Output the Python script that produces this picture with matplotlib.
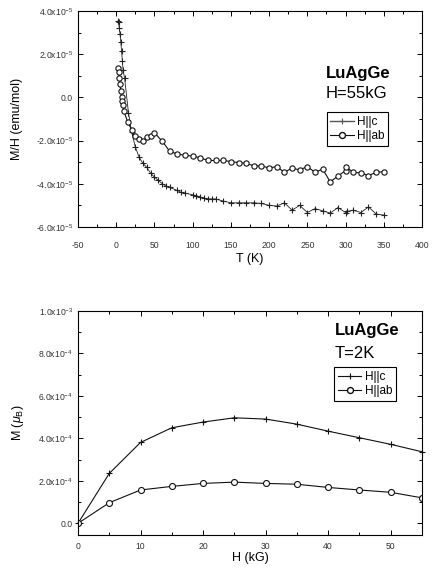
import matplotlib
matplotlib.use("Agg")
import math
import matplotlib.pyplot as plt
from matplotlib.ticker import MultipleLocator, FuncFormatter
from matplotlib.lines import Line2D

plt.rcParams['font.family'] = ['Liberation Sans', 'DejaVu Sans']
plt.rcParams['mathtext.fontset'] = 'custom'
plt.rcParams['mathtext.rm'] = 'Liberation Sans'
plt.rcParams['mathtext.it'] = 'Liberation Sans:italic'
plt.rcParams['mathtext.bf'] = 'Liberation Sans:bold'
plt.rcParams['axes.unicode_minus'] = False

# ---- Top panel data: M/H vs T at H=55kG (units of 1e-5 emu/mol) ----
T_c = [2, 3, 4, 5, 6, 7, 8, 9, 11, 16, 20, 25, 30, 35, 40, 45, 50, 55, 60, 65,
       70, 80, 85, 90, 100, 105, 110, 115, 120, 125, 130, 140, 150, 160, 170,
       180, 190, 200, 210, 220, 230, 240, 250, 260, 270, 280, 290, 300, 302,
       310, 320, 330, 340, 350]
MH_c = [3.53, 3.48, 3.23, 2.93, 2.56, 2.14, 1.70, 1.25, 0.88, -0.71, -1.58,
        -2.30, -2.77, -3.06, -3.24, -3.51, -3.69, -3.84, -3.99, -4.10,
        -4.17, -4.31, -4.40, -4.43, -4.51, -4.55, -4.61, -4.66, -4.70, -4.70,
        -4.70, -4.80, -4.88, -4.88, -4.88, -4.88, -4.91, -5.00, -5.03, -4.88,
        -5.22, -5.00, -5.33, -5.15, -5.25, -5.36, -5.10, -5.33, -5.28,
        -5.22, -5.33, -5.07, -5.40, -5.45]

T_ab = [2, 3, 4, 5, 6, 7, 8, 9, 10, 15, 20, 25, 30, 35, 40, 45, 50, 60, 70,
        80, 90, 100, 110, 120, 130, 140, 150, 160, 170, 180, 190, 200, 210,
        220, 230, 240, 250, 260, 270, 280, 290, 300, 301, 310, 320, 330, 340,
        350]
MH_ab = [1.34, 1.19, 0.88, 0.60, 0.28, 0.03, -0.15, -0.37, -0.64, -1.13,
         -1.49, -1.79, -1.93, -2.02, -1.83, -1.79, -1.64, -2.02, -2.50,
         -2.62, -2.68, -2.72, -2.80, -2.92, -2.92, -2.92, -2.97, -3.02, -3.05,
         -3.17, -3.17, -3.27, -3.20, -3.47, -3.27, -3.36, -3.20, -3.47, -3.32,
         -3.91, -3.64, -3.39, -3.22, -3.47, -3.50, -3.62, -3.47, -3.44]

# ---- Bottom panel data: M vs H at T=2K (units of 1e-4 mu_B) ----
H_field = [0, 5, 10, 15, 20, 25, 30, 35, 40, 45, 50, 55]
M_c = [0.0, 2.35, 3.81, 4.50, 4.77, 4.97, 4.91, 4.67, 4.34, 4.03, 3.72, 3.37]
M_ab = [0.0, 0.97, 1.57, 1.74, 1.88, 1.94, 1.88, 1.84, 1.69, 1.57, 1.46, 1.20]

W, H = 432, 571
fig = plt.figure(figsize=(W / 100, H / 100), dpi=100)

ax1 = fig.add_axes([78 / W, 1 - 227 / H, 344 / W, 216 / H])
ax2 = fig.add_axes([78 / W, 1 - 535 / H, 344 / W, 224 / H])

TICK_COLOR = '#333333'


def sci_fmt(v, pos):
    if abs(v) < 1e-12:
        return '0.0'
    e = int(math.floor(math.log10(abs(v)) + 1e-9))
    m = v / 10 ** e
    return r'%.1fx10$^{%d}$' % (m, e)


def style_axis(ax, xpad):
    for s in ax.spines.values():
        s.set_linewidth(0.8)
    ax.tick_params(which='both', direction='in', top=True, right=True,
                   labelsize=6.2, labelcolor=TICK_COLOR, width=0.7)
    ax.tick_params(which='major', length=3.5)
    ax.tick_params(which='minor', length=2)
    ax.tick_params(axis='x', pad=xpad)


# Top panel
ax1.plot(T_c, [v * 1e-5 for v in MH_c], color='#222222', lw=0.6,
         marker='+', ms=4.5, mew=0.8, ls='-')
ax1.plot(T_ab, [v * 1e-5 for v in MH_ab], color='#111111', lw=0.8,
         marker='o', ms=3.8, mfc='white', mec='#111111', mew=0.8)
ax1.set_xlim(-50, 400)
ax1.set_ylim(-6e-5, 4e-5)
ax1.xaxis.set_major_locator(MultipleLocator(50))
ax1.xaxis.set_minor_locator(MultipleLocator(25))
ax1.yaxis.set_major_locator(MultipleLocator(2e-5))
ax1.yaxis.set_minor_locator(MultipleLocator(1e-5))
ax1.yaxis.set_major_formatter(FuncFormatter(sci_fmt))
style_axis(ax1, 10)
ax1.set_xlabel('T (K)', fontsize=9, labelpad=2)
ax1.set_ylabel('M/H (emu/mol)', fontsize=9, labelpad=9)
ax1.text((326 - 78) / 344, (227 - 73) / 216, 'LuAgGe', fontsize=12,
         fontweight='bold', ha='left', va='center', transform=ax1.transAxes)
ax1.text((326 - 78) / 344, (227 - 93) / 216, 'H=55kG', fontsize=12,
         ha='left', va='center', transform=ax1.transAxes)

handles1 = [Line2D([], [], color='#555555', lw=1.0, marker='+', ms=5, mew=0.8),
            Line2D([], [], color='#111111', lw=0.8, marker='o', ms=4.3,
                   mfc='white', mec='#111111')]
leg1 = ax1.legend(handles1, ['H||c', 'H||ab'], loc='upper left',
                  bbox_to_anchor=((326.7 - 78) / 344, (227 - 112.3) / 216),
                  fontsize=8.5, frameon=True, fancybox=False, edgecolor='black',
                  handlelength=2.0, handletextpad=0.3, borderpad=0.3,
                  labelspacing=0.2, borderaxespad=0, framealpha=1)
leg1.get_frame().set_linewidth(0.8)

# Bottom panel
ax2.plot(H_field, [v * 1e-4 for v in M_c], color='#111111', lw=0.8,
         marker='+', ms=5, mew=0.8, clip_on=False)
ax2.plot(H_field, [v * 1e-4 for v in M_ab], color='#111111', lw=0.8,
         marker='o', ms=4.3, mfc='white', mec='#111111', mew=0.8, clip_on=True)
ax2.set_xlim(0, 55)
ax2.set_ylim(-0.55e-4, 1.0e-3)
ax2.xaxis.set_major_locator(MultipleLocator(10))
ax2.xaxis.set_minor_locator(MultipleLocator(5))
ax2.yaxis.set_major_locator(MultipleLocator(2e-4))
ax2.yaxis.set_minor_locator(MultipleLocator(1e-4))
ax2.yaxis.set_major_formatter(FuncFormatter(sci_fmt))
style_axis(ax2, 5)
ax2.set_xlabel('H (kG)', fontsize=9, labelpad=1)
ax2.set_ylabel(r'M ($\mu_{\mathrm{B}}$)', fontsize=9, labelpad=9)
ax2.text((335 - 78) / 344, (535 - 330) / 224, 'LuAgGe', fontsize=12,
         fontweight='bold', ha='left', va='center', transform=ax2.transAxes)
ax2.text((335 - 78) / 344, (535 - 353) / 224, 'T=2K', fontsize=12,
         ha='left', va='center', transform=ax2.transAxes)

handles2 = [Line2D([], [], color='#111111', lw=0.8, marker='+', ms=5, mew=0.8),
            Line2D([], [], color='#111111', lw=0.8, marker='o', ms=4.3,
                   mfc='white', mec='#111111')]
leg2 = ax2.legend(handles2, ['H||c', 'H||ab'], loc='upper left',
                  bbox_to_anchor=((334.3 - 78) / 344, (535 - 367.3) / 224),
                  fontsize=8.5, frameon=True, fancybox=False, edgecolor='black',
                  handlelength=2.0, handletextpad=0.3, borderpad=0.3,
                  labelspacing=0.2, borderaxespad=0, framealpha=1)
leg2.get_frame().set_linewidth(0.8)

fig.savefig('out.png', dpi=100)
